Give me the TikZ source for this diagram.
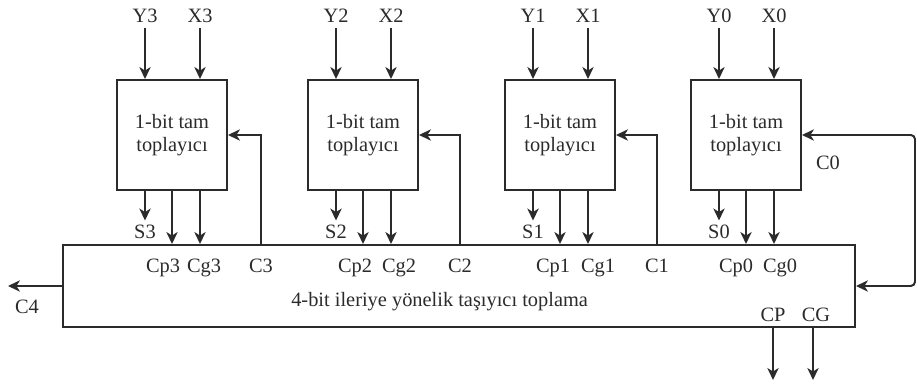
\documentclass[tikz,border=0pt]{standalone}
\usepackage{fontspec}
\setmainfont{Liberation Serif}
\usetikzlibrary{arrows.meta, positioning}
\definecolor{wire}{HTML}{2B2B2B}

\begin{document}
\begin{tikzpicture}[
  every node/.style={font=\fontsize{14.5}{16}\selectfont, text=wire},
  fabox/.style={rectangle, draw=wire, line width=1.4pt, minimum width=2.75cm, minimum height=2.75cm, inner sep=0pt, align=center},
  clabox/.style={rectangle, draw=wire, line width=1.4pt, minimum width=19.8cm, minimum height=2.05cm},
  sig/.style={-{Stealth[length=8.5pt, width=8pt, inset=2.5pt]}, draw=wire, line width=1.4pt},
  pin/.style={anchor=base},
]
\useasboundingbox (0,0) rectangle (22.925,9.675);

% Top row: 1-bit full adders
\node[fabox] (fa3) at (4.3, 6.3) {1-bit tam\\toplayıcı};
\node[fabox] (fa2) at (9.075, 6.3) {1-bit tam\\toplayıcı};
\node[fabox] (fa1) at (14.0, 6.3) {1-bit tam\\toplayıcı};
\node[fabox] (fa0) at (18.65, 6.3) {1-bit tam\\toplayıcı};

% Bottom: carry lookahead unit
\node[clabox] (cla) at (11.475, 2.525) {};
\node[pin] (clatext) at (10.99, 2.0) {4-bit ileriye yönelik taşıyıcı toplama};

% Inputs
\node[pin] (y3) at (3.625, 9.1) {Y3};
\node[pin] (x3) at (5.0, 9.1) {X3};
\node[pin] (y2) at (8.4, 9.1) {Y2};
\node[pin] (x2) at (9.775, 9.1) {X2};
\node[pin] (y1) at (13.325, 9.1) {Y1};
\node[pin] (x1) at (14.7, 9.1) {X1};
\node[pin] (y0) at (17.975, 9.1) {Y0};
\node[pin] (x0) at (19.35, 9.1) {X0};

\draw[sig] (y3) -- (y3 |- fa3.north);
\draw[sig] (x3) -- (x3 |- fa3.north);
\draw[sig] (y2) -- (y2 |- fa2.north);
\draw[sig] (x2) -- (x2 |- fa2.north);
\draw[sig] (y1) -- (y1 |- fa1.north);
\draw[sig] (x1) -- (x1 |- fa1.north);
\draw[sig] (y0) -- (y0 |- fa0.north);
\draw[sig] (x0) -- (x0 |- fa0.north);

% Sum outputs
\node[pin] (s3) at (3.625, 3.7) {S3};
\node[pin] (s2) at (8.4, 3.7) {S2};
\node[pin] (s1) at (13.325, 3.7) {S1};
\node[pin] (s0) at (17.975, 3.7) {S0};

\draw[sig] (s3 |- fa3.south) -- (s3);
\draw[sig] (s2 |- fa2.south) -- (s2);
\draw[sig] (s1 |- fa1.south) -- (s1);
\draw[sig] (s0 |- fa0.south) -- (s0);

% Propagate / generate into the lookahead unit
\node[pin] (cp3) at (4.075, 2.85) {Cp3};
\node[pin] (cg3) at (5.1, 2.85) {Cg3};
\node[pin] (cp2) at (8.875, 2.85) {Cp2};
\node[pin] (cg2) at (9.975, 2.85) {Cg2};
\node[pin] (cp1) at (13.825, 2.85) {Cp1};
\node[pin] (cg1) at (14.95, 2.85) {Cg1};
\node[pin] (cp0) at (18.4, 2.85) {Cp0};
\node[pin] (cg0) at (19.5, 2.85) {Cg0};

\draw[sig] (fa3.south) -- (fa3.south |- cla.north);
\draw[sig] (x3 |- fa3.south) -- (x3 |- cla.north);
\draw[sig] (fa2.south) -- (fa2.south |- cla.north);
\draw[sig] (x2 |- fa2.south) -- (x2 |- cla.north);
\draw[sig] (fa1.south) -- (fa1.south |- cla.north);
\draw[sig] (x1 |- fa1.south) -- (x1 |- cla.north);
\draw[sig] (fa0.south) -- (fa0.south |- cla.north);
\draw[sig] (x0 |- fa0.south) -- (x0 |- cla.north);

% Carries back to the adders
\node[pin] (c3) at (6.525, 2.85) {C3};
\node[pin] (c2) at (11.5, 2.85) {C2};
\node[pin] (c1) at (16.425, 2.85) {C1};

\draw[sig] (c3 |- cla.north) |- (fa3.east);
\draw[sig] (c2 |- cla.north) |- (fa2.east);
\draw[sig] (c1 |- cla.north) |- (fa1.east);

% C0 into both the adder and the lookahead unit
\node[pin] (c0) at (20.7, 5.425) {C0};
\coordinate (c0loop) at (22.875, 2.525);
\draw[sig, {Stealth[length=8.5pt, width=8pt, inset=2.5pt]}-{Stealth[length=8.5pt, width=8pt, inset=2.5pt]}, rounded corners=3pt]
  (cla.east) -- (c0loop) |- (fa0.east);

% C4 out
\node[pin] (c4) at (0.675, 1.825) {C4};
\coordinate (c4end) at (0.2, 2.525);
\draw[sig] (cla.west) -- (c4end);

% Group propagate / generate
\node[pin] (cp) at (19.325, 1.625) {CP};
\node[pin] (cg) at (20.4, 1.625) {CG};
\coordinate (cpend) at (19.325, 0.175);
\coordinate (cgend) at (20.325, 0.175);
\draw[sig] (cp |- cla.south) -- (cpend);
\draw[sig] (cgend |- cla.south) -- (cgend);

\end{tikzpicture}
\end{document}
